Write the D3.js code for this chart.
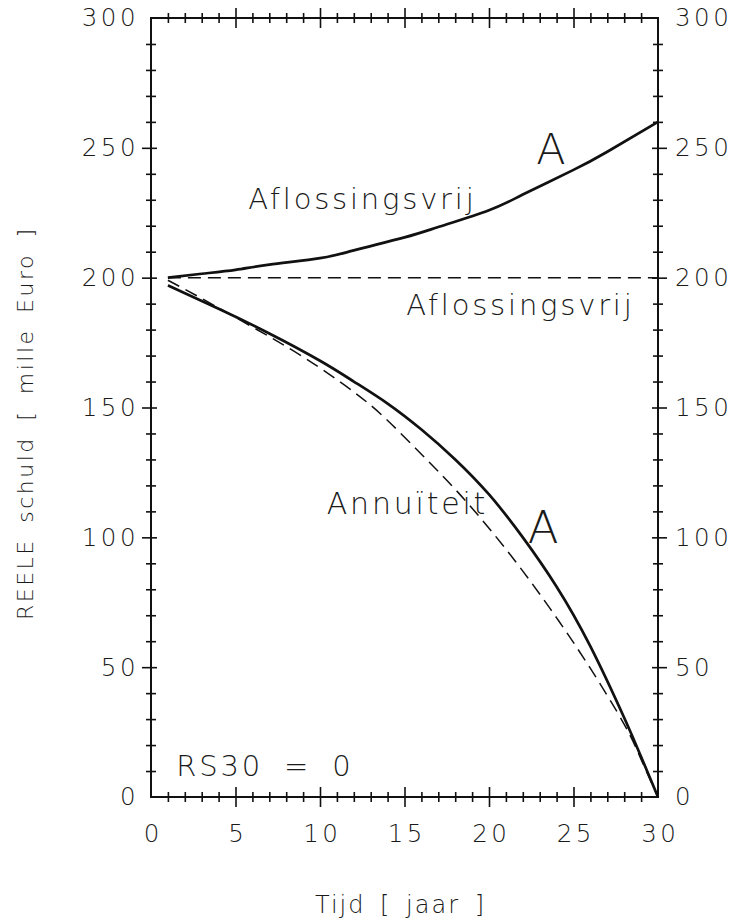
<!DOCTYPE html>
<html>
<head>
<meta charset="utf-8">
<script src="https://cdn.jsdelivr.net/npm/d3@7"></script>
<style>
  body { margin: 0; background: #fff; }
  text { font-family: "DejaVu Sans", sans-serif; font-weight: 200; fill: #1a1a1a; }
</style>
</head>
<body>
<div id="vis"></div>
<script>
const margin = { top: 18, right: 82, bottom: 124, left: 151 };
const width = 740 - margin.left - margin.right;
const height = 921 - margin.top - margin.bottom;

// solid upper curve: Aflossingsvrij (A)
const aflosYears = [1, 3, 5, 7, 10, 12, 15, 17, 20, 22, 25, 27, 30]
const aflosA = [200, 201.5, 203, 205, 207.5, 210.5, 215.5, 219.5, 226, 232, 241.5, 248.5, 260]
// dashed horizontal: Aflossingsvrij
const aflosDashYears = [1, 30]
const aflosDash = [200, 200]
// solid lower curve: Annuiteit (A)
const annYears = [1, 4, 7, 10, 12, 14, 16, 18, 20, 22, 24, 26, 28, 29, 30]
const annA = [197, 188, 178.5, 168, 160, 151.5, 141.5, 130, 116.5, 100, 81, 58, 30.5, 15.5, 0]
// dashed lower curve: Annuiteit
const annDashYears = [1, 3, 6, 9, 12, 14, 16, 18, 20, 22, 24, 26, 28, 29, 30]
const annDash = [199, 192, 181, 169.5, 156, 145, 132, 118.5, 103.5, 87, 69, 49.5, 28, 14.5, 0]

const xTicks = [0, 5, 10, 15, 20, 25, 30]
const yTicks = [0, 50, 100, 150, 200, 250, 300]

// text labels: [text, year, value, size]
const labels = [
    ['A', 22.8, 243.6, 43],
    ['Aflossingsvrij', 5.75, 226.3, 29],
    ['Aflossingsvrij', 15.1, 185.6, 29],
    ['Annuïteit', 10.4, 109, 30],
    ['A', 22.3, 97.8, 45],
    ['RS30 = 0', 1.5, 8.1, 29]
]

const svg = d3.select('#vis')
    .append('svg')
    .attr('width', width + margin.left + margin.right)
    .attr('height', height + margin.top + margin.bottom)
    .append('g')
    .attr('transform', `translate(${margin.left},${margin.top})`);

const xScale = d3.scaleLinear().domain([0, 30]).range([0, width])
const yScale = d3.scaleLinear().domain([0, 300]).range([height, 0])

function crossTicks(g, axisA, axisB, values, sizeA, sizeB){
    g.append('g').call(axisA.tickValues(values).tickSize(sizeA).tickFormat(''))
    g.append('g').call(axisB.tickValues(values).tickSize(sizeB).tickFormat(''))
    g.selectAll('.domain').remove()
    g.selectAll('line').attr('stroke', '#111').attr('stroke-width', 1.6)
}

function drawAxes(){
    const minorX = d3.range(1, 30).filter(d => d % 5)
    const majorX = d3.range(5, 30, 5)
    const minorY = d3.range(10, 300, 10).filter(d => d % 50)
    const majorY = d3.range(50, 300, 50)

    // bottom + top
    ;[height, 0].forEach(pos => {
        const g = svg.append('g').attr('transform', `translate(0,${pos})`)
        crossTicks(g, d3.axisBottom(xScale), d3.axisTop(xScale), minorX, 5, 5)
        crossTicks(g, d3.axisBottom(xScale), d3.axisTop(xScale), majorX, 10, 10)
    })
    // left
    const gl = svg.append('g')
    crossTicks(gl, d3.axisLeft(yScale), d3.axisRight(yScale), minorY, 5, 5)
    crossTicks(gl, d3.axisLeft(yScale), d3.axisRight(yScale), majorY, 9, 6)
    // right
    const gr = svg.append('g').attr('transform', `translate(${width},0)`)
    crossTicks(gr, d3.axisRight(yScale), d3.axisLeft(yScale), minorY, 5, 5)
    crossTicks(gr, d3.axisRight(yScale), d3.axisLeft(yScale), majorY, 9, 6)

    svg.append('rect')
        .attr('width', width)
        .attr('height', height)
        .attr('fill', 'none')
        .attr('stroke', '#111')
        .attr('stroke-width', 2)

    // tick labels
    const xl = svg.append('g')
        .attr('transform', `translate(0,${height})`)
        .call(d3.axisBottom(xScale).tickValues(xTicks).tickSize(0).tickPadding(28))
    const yl = svg.append('g')
        .call(d3.axisLeft(yScale).tickValues(yTicks).tickSize(0).tickPadding(12))
    const yr = svg.append('g')
        .attr('transform', `translate(${width},0)`)
        .call(d3.axisRight(yScale).tickValues(yTicks).tickSize(0).tickPadding(17))
    ;[xl, yl, yr].forEach(g => {
        g.select('.domain').remove()
        g.attr('font-family', null).attr('font-size', null)
        g.selectAll('text')
            .style('font-size', '24.5px')
            .style('letter-spacing', '3.5px')
            .attr('fill', '#1a1a1a')
    })
    xl.selectAll('text').attr('dx', 1.8)

    // axis titles
    svg.append('text')
        .attr('x', width / 2 - 4)
        .attr('y', height + 116)
        .attr('text-anchor', 'middle')
        .style('font-size', '24px')
        .style('letter-spacing', '2px')
        .style('word-spacing', '5px')
        .text('Tijd [ jaar ]')

    svg.append('text')
        .attr('transform', `translate(${33 - margin.left},${620 - margin.top}) rotate(-90)`)
        .attr('text-anchor', 'start')
        .style('font-size', '22px')
        .style('letter-spacing', '2.5px')
        .style('word-spacing', '6px')
        .text('REELE schuld [ mille Euro ]')
}

function drawLines(){
    const line = d3.line()
        .x(d => xScale(d[0]))
        .y(d => yScale(d[1]))
        .curve(d3.curveNatural)

    const series = [
        { t: aflosYears, v: aflosA, dash: null },
        { t: aflosDashYears, v: aflosDash, dash: '13,7' },
        { t: annYears, v: annA, dash: null },
        { t: annDashYears, v: annDash, dash: '13,7' }
    ]

    svg.selectAll('.curve')
        .data(series)
        .enter()
        .append('path')
        .attr('class', 'curve')
        .attr('d', d => line(d3.zip(d.t, d.v)))
        .attr('fill', 'none')
        .attr('stroke', '#111')
        .attr('stroke-width', d => d.dash ? 1.5 : 2.7)
        .attr('stroke-dasharray', d => d.dash)
}

function addLabels(){
    svg.selectAll('.lbl')
        .data(labels)
        .enter()
        .append('text')
        .attr('class', 'lbl')
        .attr('x', d => xScale(d[1]))
        .attr('y', d => yScale(d[2]))
        .style('font-size', d => d[3] + 'px')
        .style('letter-spacing', d => d[0].length > 1 ? '2.8px' : null)
        .style('word-spacing', d => d[0].startsWith('RS') ? '9px' : null)
        .text(d => d[0])
}

drawAxes()
drawLines()
addLabels()
</script>
</body>
</html>
